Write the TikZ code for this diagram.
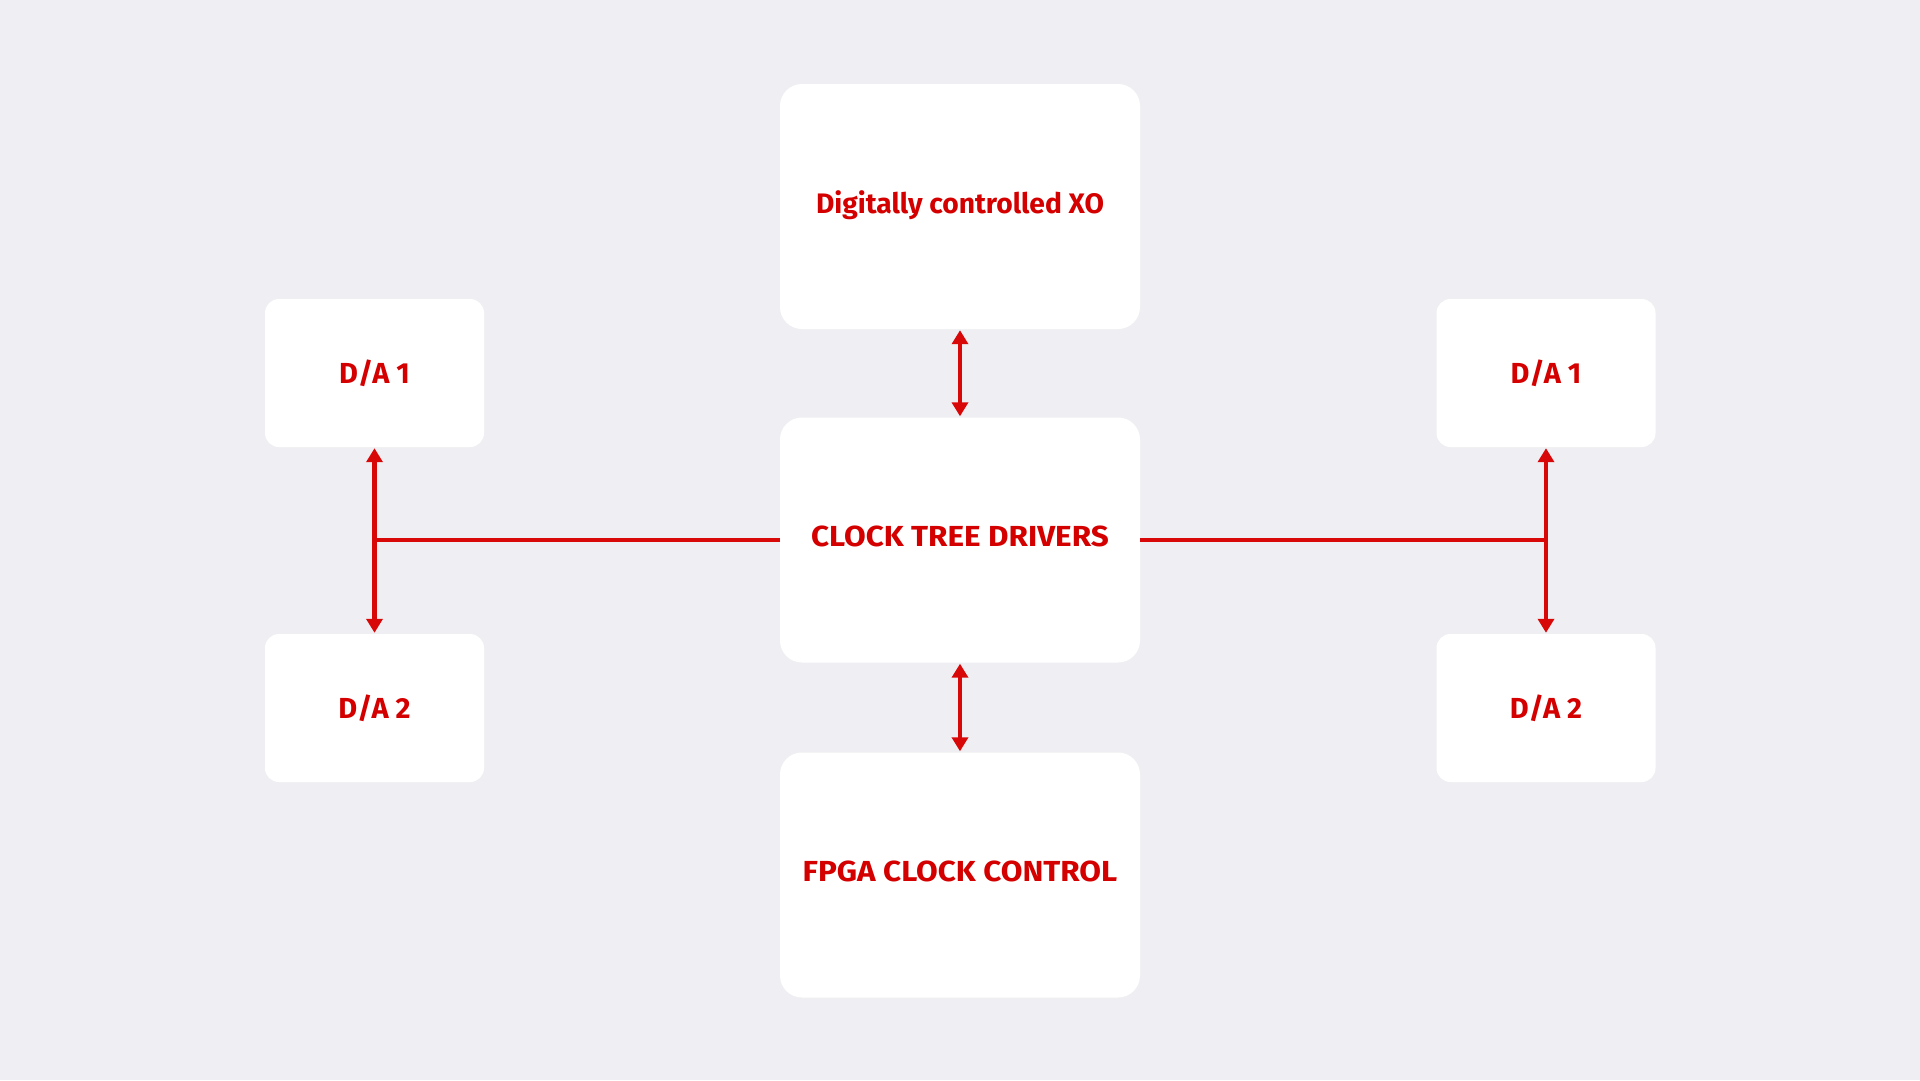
\documentclass[tikz,border=0pt]{standalone}
\usepackage{fontspec}
\setmainfont{Fira Sans}
\newfontfamily\widefont[FakeStretch=1.085]{Fira Sans}
\usetikzlibrary{arrows.meta}
\definecolor{bg}{HTML}{EFEFF3}
\definecolor{txt}{HTML}{D40000}
\definecolor{ln}{HTML}{D80808}
\definecolor{shd}{HTML}{9A9AAE}
\tikzset{
  card/.style={fill=white, draw=none, rounded corners=#1, inner sep=0pt,
    text=txt, font=\fontsize{29}{34}\selectfont\bfseries, align=center},
  big/.style={card=22pt, minimum width=360pt, minimum height=245pt},
  small/.style={card=14pt, minimum width=219pt, minimum height=148pt, text depth=2pt},
  widetext/.style={font=\widefont\fontsize{29}{34}\selectfont\bfseries, text depth=7pt},
  conn/.style={draw=ln, line width=4.5pt},
  biarrow/.style={conn, {Triangle[width=16pt,length=14pt]}-{Triangle[width=16pt,length=14pt]}, shorten <=1pt, shorten >=1pt},
}
\newcommand{\softshadow}[4]{% center x, center y, width, height
  \foreach \k in {1,...,14}{
    \fill[shd, opacity=0.03, rounded corners={20pt+\k*2pt}]
      (#1-#3/2-\k*2.2pt, #2-#4/2-\k*2.2pt+4pt) rectangle (#1+#3/2+\k*2.2pt, #2+#4/2+\k*2.2pt+8pt);
  }
}
\begin{document}
\begin{tikzpicture}[x=1pt,y=-1pt]
\fill[bg] (0,0) rectangle (1920,1080);
\useasboundingbox (0,0) rectangle (1920,1080);
\softshadow{960}{206.5}{360}{245}
\softshadow{960}{540}{360}{245}
\softshadow{960}{875}{360}{245}
\softshadow{374.5}{373}{219}{148}
\softshadow{374.5}{708}{219}{148}
\softshadow{1546}{373}{219}{148}
\softshadow{1546}{708}{219}{148}
\node[big, font=\fontsize{28.2}{34}\selectfont\bfseries, text depth=8pt] (xo) at (960,206.5) {Digitally controlled XO};
\node[big, widetext] (ctd) at (960,540) {CLOCK TREE DRIVERS};
\node[big, widetext] (fpga) at (960,875) {FPGA CLOCK CONTROL};
\node[small] (la1) at (374.5,373) {D/A 1};
\node[small] (la2) at (374.5,708) {D/A 2};
\node[small] (ra1) at (1546,373) {D/A 1};
\node[small] (ra2) at (1546,708) {D/A 2};
\coordinate (lj) at (375,540);
\coordinate (rj) at (1546,540);
\draw[biarrow] (ctd.north) -- (xo.south);
\draw[biarrow] (ctd.south) -- (fpga.north);
\draw[conn] (ctd.west) -- (lj);
\draw[conn] (ctd.east) -- (rj);
\draw[biarrow] (la1.south) -- (la2.north);
\draw[biarrow] (ra1.south) -- (ra2.north);
\end{tikzpicture}
\end{document}
